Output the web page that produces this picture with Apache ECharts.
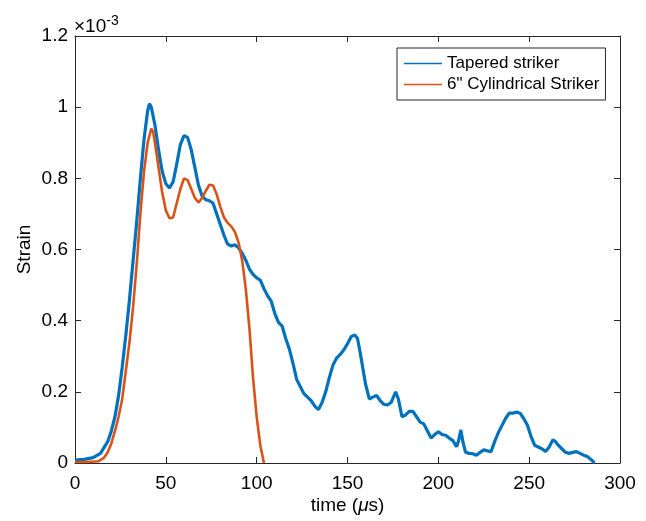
<!DOCTYPE html>
<html>
<head>
<meta charset="utf-8">
<script src="https://cdn.jsdelivr.net/npm/echarts@6/dist/echarts.min.js"></script>
<style>html,body{margin:0;padding:0;background:#fff}#c{width:646px;height:521px}</style>
</head>
<body>
<div id="c"></div>
<script>
// time in microseconds
var tTapered = [0,5,10,14,18,20,22,24,26,28,30,32,34,36,38,40,41,42,44,46,48,50,52,54,56,58,60,62,64,66,68,70,72,74,76,78,80,82,84,86,88,90,92,94,96,98,100,102,104,106,108,110,112,114,116,118,120,122,124,126,128,130,132,134,136,138,140,142,144,146,148,150,152,154,155.5,157,158.5,160,162,164,166,168,170,172,174,176.5,178,180,182,184,186,188,190,192,194,196,198,200,202,204,206,208,210,211,212.4,213.5,215,217,219,221,223,225,227,229,231,233,235,237,239,241,243,245,247,249,251,253,255,257,259,261,263,264.5,266,268,270,272,274,276,278,280,282,284,286];
// strain in units of 1e-3
var strainTapered = [0.008,0.01,0.015,0.027,0.06,0.09,0.13,0.19,0.27,0.36,0.46,0.57,0.68,0.80,0.91,0.99,1.01,1.0,0.95,0.88,0.82,0.785,0.773,0.79,0.84,0.895,0.92,0.915,0.88,0.83,0.78,0.75,0.74,0.737,0.73,0.70,0.67,0.64,0.615,0.61,0.613,0.605,0.59,0.57,0.545,0.53,0.52,0.514,0.49,0.47,0.455,0.42,0.395,0.385,0.35,0.32,0.28,0.235,0.215,0.195,0.185,0.175,0.16,0.15,0.17,0.2,0.24,0.275,0.295,0.305,0.318,0.335,0.355,0.36,0.35,0.31,0.265,0.22,0.18,0.185,0.19,0.175,0.165,0.163,0.17,0.20,0.18,0.13,0.135,0.145,0.145,0.13,0.115,0.11,0.09,0.07,0.08,0.088,0.08,0.078,0.07,0.063,0.046,0.06,0.093,0.06,0.03,0.027,0.026,0.022,0.03,0.037,0.034,0.032,0.06,0.085,0.105,0.125,0.14,0.14,0.143,0.14,0.125,0.107,0.075,0.05,0.045,0.04,0.032,0.045,0.065,0.06,0.05,0.04,0.03,0.027,0.03,0.032,0.027,0.022,0.018,0.01,0.0];
var tCyl = [0,5,10,13,16,18,20,22,24,26,28,30,32,34,36,38,40,42,43,44,46,48,50,52,53,54,56,58,60,61,62,64,66,68,70,72,74,75,76,78,80,82,84,86,88,90,92,94,96,98,100,102,104];
var strainCyl = [0.003,0.003,0.004,0.005,0.015,0.03,0.055,0.09,0.13,0.18,0.26,0.34,0.44,0.56,0.70,0.82,0.9,0.94,0.93,0.9,0.83,0.76,0.71,0.688,0.686,0.69,0.73,0.77,0.80,0.802,0.795,0.77,0.745,0.732,0.745,0.765,0.782,0.786,0.78,0.755,0.72,0.69,0.675,0.665,0.65,0.62,0.57,0.49,0.38,0.24,0.13,0.05,0];
var xTicks = [0,50,100,150,200,250,300];
var yTicks = [0,0.2,0.4,0.6,0.8,1,1.2];
var seriesNames = ['Tapered striker', '6" Cylindrical Striker'];

function pairs(a,b){return a.map(function(v,i){return [v,b[i]];});}
var FONT = '"Liberation Sans", Arial, Helvetica, sans-serif';
var AX = '#262626';
var LINE_ICON = 'path://M0,0H38V1.4H0Z';
var chart = echarts.init(document.getElementById('c'), null, {renderer:'canvas'});
var axisCommon = {
  axisLine:{show:true,onZero:false,lineStyle:{color:AX,width:1}},
  axisTick:{show:true,inside:true,length:6,lineStyle:{color:AX}},
  splitLine:{show:false}
};
chart.setOption({
  animation:false,
  backgroundColor:'#fff',
  grid:{left:75,right:26,top:36,bottom:58,containLabel:false},
  legend:{
    orient:'vertical', left:397, top:48,
    data:[{name:seriesNames[0],icon:LINE_ICON},{name:seriesNames[1],icon:LINE_ICON}],
    backgroundColor:'#fff',
    borderColor:AX, borderWidth:1,
    padding:[7,6,7,7],
    itemWidth:38, itemHeight:14, itemGap:4,
    textStyle:{fontFamily:FONT,fontSize:17,color:'#000'}
  },
  xAxis:[
    Object.assign({type:'value',min:0,max:300,interval:50,position:'bottom',
      name:'time ({i|μ}s)',nameLocation:'middle',nameGap:43,nameMoveOverlap:false,
      nameTextStyle:{fontFamily:FONT,fontSize:19,color:'#000',verticalAlign:'middle',
        rich:{i:{fontFamily:FONT,fontSize:19,fontStyle:'italic',color:'#000',verticalAlign:'middle'}}},
      axisLabel:{fontFamily:FONT,fontSize:19,color:'#000',margin:11}},axisCommon),
    Object.assign({type:'value',min:0,max:300,interval:50,position:'top',axisLabel:{show:false}},axisCommon)
  ],
  yAxis:[
    Object.assign({type:'value',min:0,max:1.2,interval:0.2,position:'left',
      name:'Strain',nameLocation:'middle',nameGap:50,nameMoveOverlap:false,
      nameTextStyle:{fontFamily:FONT,fontSize:19,color:'#000',verticalAlign:'middle'},
      axisLabel:{fontFamily:FONT,fontSize:19,color:'#000',margin:7,
        formatter:function(v){return String(Math.round(v*10)/10);}}},axisCommon),
    Object.assign({type:'value',min:0,max:1.2,interval:0.2,position:'right',axisLabel:{show:false}},axisCommon)
  ],
  graphic:[{
    type:'text', left:74, top:14,
    style:{rich:{a:{fontFamily:FONT,fontSize:19,fill:'#000'},s:{fontFamily:FONT,fontSize:14,fill:'#000',padding:[0,0,12,0]}},
      text:'{a|×10}{s|-3}'}
  }],
  series:[
    {name:seriesNames[0],type:'line',xAxisIndex:0,yAxisIndex:0,showSymbol:false,symbol:'none',
     data:pairs(tTapered,strainTapered),lineStyle:{color:'#0072BD',width:3.2},itemStyle:{color:'#0072BD'}},
    {name:seriesNames[1],type:'line',xAxisIndex:0,yAxisIndex:0,showSymbol:false,symbol:'none',
     data:pairs(tCyl,strainCyl),lineStyle:{color:'#D95319',width:2.6},itemStyle:{color:'#D95319'}}
  ]
});
</script>
</body>
</html>
